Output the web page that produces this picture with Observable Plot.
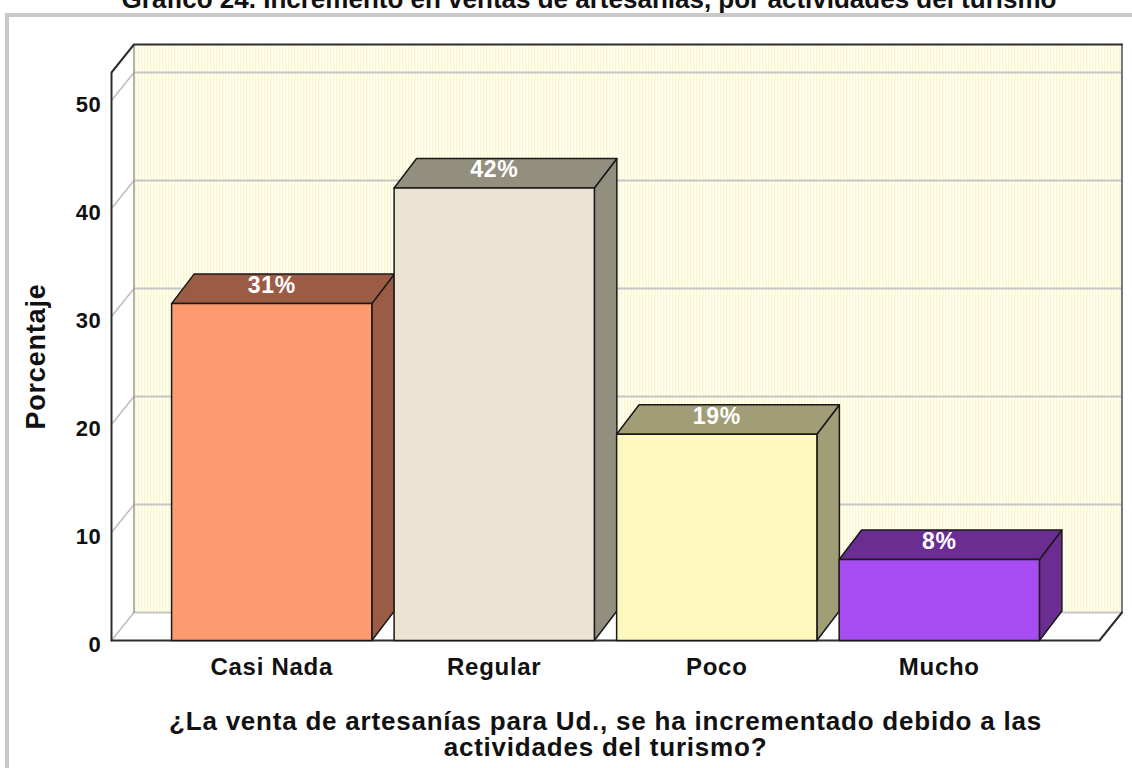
<!DOCTYPE html>
<html><head><meta charset="utf-8">
<script src="https://cdn.jsdelivr.net/npm/d3@7"></script>
<script src="https://cdn.jsdelivr.net/npm/@observablehq/plot@0.6"></script>
<style>
body{margin:0;background:#fff;width:1132px;height:768px;overflow:hidden;position:relative;font-family:"Liberation Sans",Arial,sans-serif;}
#frame{position:absolute;left:5px;top:13px;width:1300px;height:900px;border:4px solid #c9c9c9;box-sizing:border-box;background:#fff;}
#title{position:absolute;left:0;top:-16px;width:1178px;text-align:center;font-weight:bold;font-size:26px;line-height:30px;color:#111;white-space:nowrap;}
#chart{position:absolute;left:0;top:0;}
#chart svg text{letter-spacing:0.03em;}
</style></head><body>
<div id="title"></div>
<div id="frame"></div>
<div id="chart"></div>
<script>
const chartTitle = "Gráfico 24. Incremento en ventas de artesanías, por actividades del turismo";
const categories = ["Casi Nada", "Regular", "Poco", "Mucho"];
const values = [31.2, 41.9, 19.1, 7.5];
const valueLabels = ["31%", "42%", "19%", "8%"];
const frontColors = ["#fe9a6f", "#ece4d2", "#fdf8bd", "#a64cf0"];
const shadeColors = ["#9c5b44", "#938f7f", "#a09d77", "#6b2d92"];
const yTicks = [0, 10, 20, 30, 40, 50];
const yTitle = "Porcentaje";
const xTitle = "¿La venta de artesanías para Ud., se ha incrementado debido a las\nactividades del turismo?";

document.getElementById("title").textContent = chartTitle;

// axis extents and 3D depth (data units)
const X0 = -0.72, X1 = 3.72, Y1 = 52.6;
const DX = 0.101, DY = 2.593, DYB = 2.73, H = 0.45;

const bars = categories.map((cat, i) => ({cat, i, v: values[i], label: valueLabels[i], front: frontColors[i], shade: shadeColors[i]}));

const poly = (pts, opts) => Plot.line(pts, {x: d => d[0], y: d => d[1], curve: "linear-closed", ...opts});
const path = (pts, opts) => Plot.line(pts, {x: d => d[0], y: d => d[1], ...opts});

const marks = [
  poly([[X0, 0], [X0, Y1], [X0 + DX, Y1 + DY], [X0 + DX, DY]], {fill: "#fff", stroke: "none"}),
  poly([[X0, 0], [X1, 0], [X1 + DX, DY], [X0 + DX, DY]], {fill: "#fff", stroke: "none"}),
  Plot.rect([0], {x1: () => X0 + DX, x2: () => X1 + DX, y1: () => DY, y2: () => Y1 + DY, fill: "url(#stripes)"}),
  Plot.link(yTicks, {x1: () => X0 + DX, x2: () => X1 + DX, y1: t => t + DY, y2: t => t + DY, stroke: "#c6c6c6", strokeWidth: 2}),
  Plot.link(yTicks, {x1: () => X0, x2: () => X0 + DX, y1: t => t, y2: t => t + DY, stroke: "#bdbdbd", strokeWidth: 1.5}),
  path([[X0 + DX, DY], [X0 + DX, Y1 + DY]], {stroke: "#9a9a9a", strokeWidth: 1.5}),
  path([[X1 + DX, Y1 + DY], [X1 + DX, DY]], {stroke: "#7a7a7a", strokeWidth: 2}),
  path([[X0, 0], [X0, Y1], [X0 + DX, Y1 + DY], [X1 + DX, Y1 + DY]], {stroke: "#2e2e2e", strokeWidth: 2}),
  path([[X0, 0], [X1, 0], [X1 + DX, DY]], {stroke: "#2e2e2e", strokeWidth: 2})
];

for (const b of bars) {
  const l = b.i - H, r = b.i + H, v = b.v;
  marks.push(
    poly([[r, 0], [r, v], [r + DX, v + DYB], [r + DX, DYB]], {fill: b.shade, stroke: "#1a1a1a", strokeWidth: 1.5}),
    poly([[l, v], [r, v], [r + DX, v + DYB], [l + DX, v + DYB]], {fill: b.shade, stroke: "#1a1a1a", strokeWidth: 1.5}),
    poly([[l, 0], [l, v], [r, v], [r, 0]], {fill: b.front, stroke: "#1a1a1a", strokeWidth: 1.5})
  );
}

marks.push(
  Plot.text(bars, {x: "i", y: "v", text: "label", fill: "#fff", fontWeight: "bold", fontSize: 23, dy: -18}),
  Plot.text(yTicks, {x: () => X0, y: t => t, text: t => String(t), textAnchor: "end", dx: -10, dy: 4.5, fontSize: 22, fontWeight: "bold", fill: "#111"}),
  Plot.text(bars, {x: "i", y: () => 0, text: "cat", dy: 26.5, fontSize: 24, fontWeight: "bold", fill: "#111"}),
  Plot.text([yTitle], {frameAnchor: "left", textAnchor: "middle", lineAnchor: "middle", text: d => d, rotate: -90, dx: -75, fontSize: 27, fontWeight: "bold", fill: "#111"}),
  Plot.text([xTitle], {frameAnchor: "bottom", textAnchor: "middle", lineAnchor: "middle", text: d => d, dy: 94, lineHeight: 1.0, fontSize: 26, fontWeight: "bold", fill: "#111"})
);

const chart = Plot.plot({
  width: 1132, height: 768,
  marginLeft: 111, marginRight: 33, marginTop: 72, marginBottom: 128,
  x: {domain: [X0, X1], axis: null},
  y: {domain: [0, Y1], axis: null},
  style: {background: "transparent", fontFamily: "'Liberation Sans', Arial, sans-serif", overflow: "visible"},
  marks
});

const ns = "http://www.w3.org/2000/svg";
const defs = document.createElementNS(ns, "defs");
const pat = document.createElementNS(ns, "pattern");
pat.setAttribute("id", "stripes");
pat.setAttribute("patternUnits", "userSpaceOnUse");
pat.setAttribute("width", "3");
pat.setAttribute("height", "10");
const bg = document.createElementNS(ns, "rect");
bg.setAttribute("width", "3"); bg.setAttribute("height", "10"); bg.setAttribute("fill", "#ffffff");
const st = document.createElementNS(ns, "rect");
st.setAttribute("width", "1.5"); st.setAttribute("height", "10"); st.setAttribute("fill", "#fbf7c6");
pat.appendChild(bg); pat.appendChild(st);
defs.appendChild(pat);
const svgEl = chart.tagName.toLowerCase() === "svg" ? chart : chart.querySelector("svg");
svgEl.insertBefore(defs, svgEl.firstChild);
document.getElementById("chart").appendChild(chart);
</script>
</body></html>
